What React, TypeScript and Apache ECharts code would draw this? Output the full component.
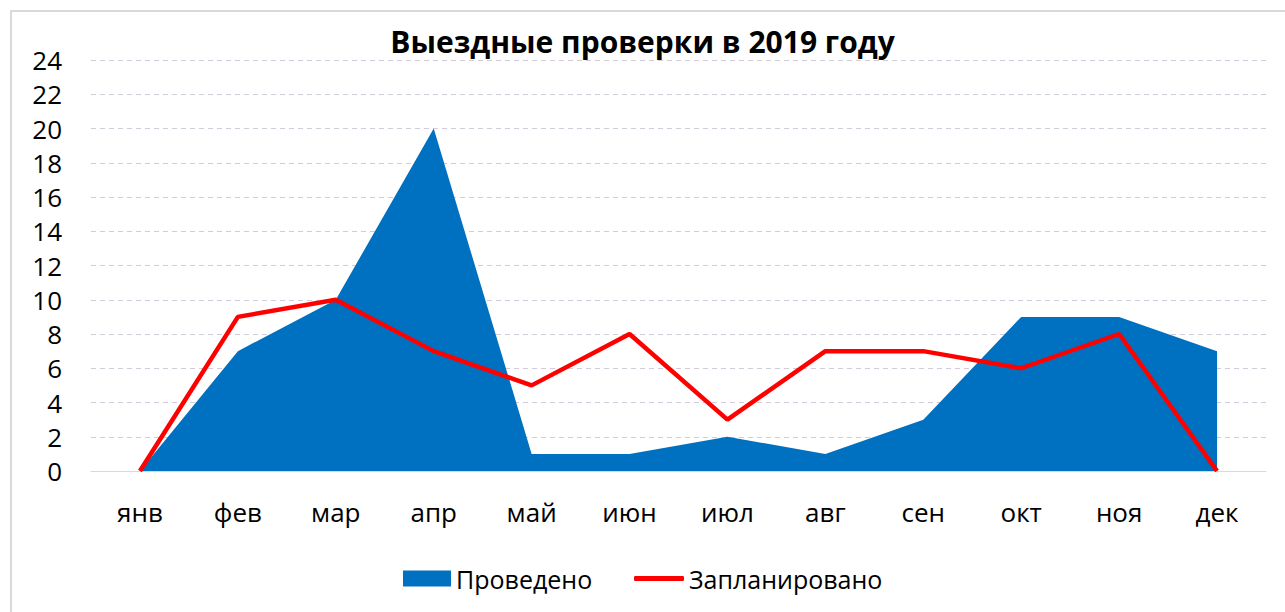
import React, { useEffect, useRef } from "react";
import * as echarts from "echarts";

const months = ["янв", "фев", "мар", "апр", "май", "июн", "июл", "авг", "сен", "окт", "ноя", "дек"];
const conducted = [0, 7, 10, 20, 1, 1, 2, 1, 3, 9, 9, 7];
const planned = [0, 9, 10, 7, 5, 8, 3, 7, 7, 6, 8, 0];
const titleText = "Выездные проверки в 2019 году";
const seriesNames = ["Проведено", "Запланировано"];

const FONT = "'Open Sans', 'Noto Sans', sans-serif";

export default function App() {
  const ref = useRef<HTMLDivElement>(null);
  useEffect(() => {
    if (!ref.current) return;
    const chart = echarts.init(ref.current, undefined, { renderer: "svg" });
    const legendText = { fontFamily: FONT, fontSize: 25, color: "#000" };
    chart.setOption({
      animation: false,
      backgroundColor: "#ffffff",
      textStyle: { fontFamily: FONT },
      graphic: [
        {
          type: "rect",
          shape: { x: 11, y: 11, width: 1300, height: 640 },
          style: { fill: "none", stroke: "#d9d9d9", lineWidth: 2 },
          silent: true,
        },
      ],
      title: {
        text: titleText,
        left: "center",
        top: 21,
        textStyle: { fontFamily: FONT, fontSize: 30, fontWeight: "bold", color: "#000" },
      },
      legend: [
        {
          top: 561,
          left: 398,
          itemWidth: 48,
          itemHeight: 16,
          itemGap: 0,
          textStyle: legendText,
          data: [{ name: seriesNames[0], icon: "rect" }],
        },
        {
          top: 561,
          left: 629,
          itemWidth: 50,
          itemHeight: 5,
          itemGap: 0,
          textStyle: legendText,
          data: [{ name: seriesNames[1], icon: "roundRect", itemStyle: { color: "#FF0000" } }],
        },
      ],
      grid: { left: 91, right: 19, top: 60, bottom: 141 },
      xAxis: {
        type: "category",
        data: months,
        boundaryGap: true,
        axisLine: { lineStyle: { color: "#d9d9d9", width: 1 } },
        axisTick: { show: false },
        axisLabel: { color: "#000", fontSize: 26, margin: 28, fontFamily: FONT },
      },
      yAxis: {
        type: "value",
        min: 0,
        max: 24,
        interval: 2,
        axisLine: { show: false },
        axisTick: { show: false },
        axisLabel: { color: "#000", fontSize: 26, margin: 29, fontFamily: FONT },
        splitLine: { lineStyle: { color: "#d3cbd9", type: [5, 4], width: 1 } },
      },
      series: [
        {
          name: seriesNames[0],
          type: "line",
          data: conducted,
          symbol: "none",
          lineStyle: { width: 0, color: "#0070C0" },
          itemStyle: { color: "#0070C0" },
          areaStyle: { color: "#0070C0", opacity: 1 },
        },
        {
          name: seriesNames[1],
          type: "line",
          data: planned,
          symbol: "none",
          lineStyle: { width: 4.5, color: "#FF0000" },
          itemStyle: { color: "#FF0000" },
        },
      ],
    });
    return () => chart.dispose();
  }, []);
  return (
    <div
      ref={ref}
      style={{ position: "fixed", left: 0, top: 0, width: 1285, height: 612 }}
    />
  );
}
